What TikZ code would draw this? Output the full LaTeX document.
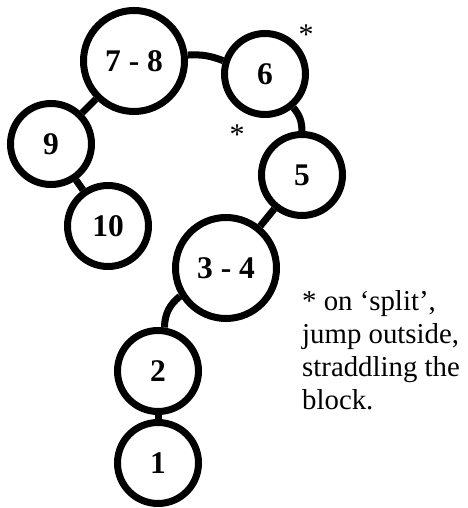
\documentclass[tikz,border=0pt]{standalone}
\usepackage{fontspec}
\setmainfont{Liberation Serif}
\begin{document}
\begin{tikzpicture}[x=1pt,y=1pt,
  my node/.style={draw, circle, line width=7pt, minimum size=81pt, inner sep=0pt, font=\fontsize{31.5}{36}\selectfont\bfseries},
  big node/.style={my node, minimum size=101pt},
  my line/.style={line width=7pt},
  star/.style={inner sep=0pt, font=\fontsize{30}{33}\selectfont}]
\useasboundingbox (0,0) rectangle (467,508);

\node[big node] (a78) at (134,447) {7 - 8};
\node[my node]  (a6)  at (265,434) {6};
\node[my node]  (a9)  at (51,364)  {9};
\node[my node]  (a10) at (108,282) {10};
\node[my node]  (a5)  at (302,333) {5};
\node[big node] (a34) at (226,240) {3 - 4};
\node[my node]  (a2)  at (158,137) {2};
\node[my node]  (a1)  at (158,45)  {1};

\node[star] (s1) at (306,473) {*};
\node[star] (s2) at (237,373) {*};

\draw[my line] (a78) to[bend left=12] (a6);
\draw[my line] (a6) to[bend left=20] (a5);
\draw[my line] (a5) -- (a34);
\draw[my line] (a34) to[bend right=25] (a2);
\draw[my line] (a2) -- (a1);
\draw[my line] (a78) -- (a9);
\draw[my line] (a9) -- (a10);

%\draw[help lines] (0,0) grid[step=50] (467,508);
\node[anchor=north west, inner sep=0pt, align=left, font=\fontsize{28.8}{33}\selectfont] (note) at (302,218)
  {* on ‘split’,\\jump outside,\\straddling the\\block.};
\end{tikzpicture}
\end{document}
